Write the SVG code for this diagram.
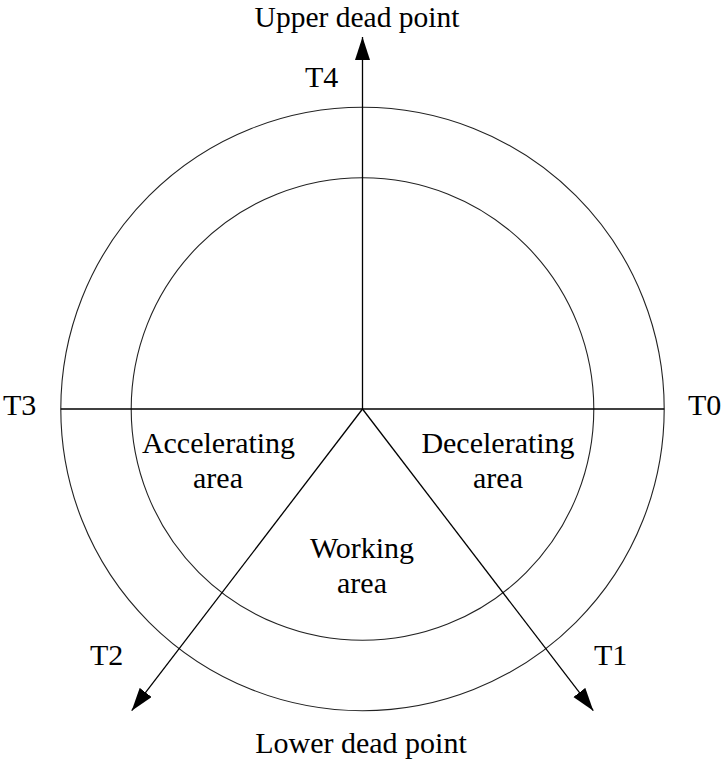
<svg xmlns="http://www.w3.org/2000/svg" width="724" height="767" viewBox="0 0 724 767">
<defs>
<style>
.c{fill:none;stroke:#222;stroke-width:1.1}
.l{fill:none;stroke:#000;stroke-width:1.3}
text{font-family:"Liberation Serif","Times New Roman",serif;font-size:30px;fill:#000}
.m{text-anchor:middle}
</style>
<marker id="ah" markerUnits="userSpaceOnUse" markerWidth="24" markerHeight="16" refX="23" refY="7.5" orient="auto" viewBox="0 0 24 16">
<path d="M0,0 L23,7.5 L0,15 z" fill="#000"/>
</marker>
</defs>
<g id="outer-circle"><circle class="c" cx="362.5" cy="409" r="301.7"/></g>
<g id="inner-circle"><circle class="c" cx="362.5" cy="409" r="231.3"/></g>
<g id="connectors">
<line class="l" x1="60.8" y1="409" x2="664.2" y2="409"/>
<line class="l" x1="362.5" y1="409" x2="362.5" y2="37" marker-end="url(#ah)"/>
<line class="l" x1="362.5" y1="409" x2="131.7" y2="710.7" marker-end="url(#ah)"/>
<line class="l" x1="362.5" y1="409" x2="593.3" y2="710.7" marker-end="url(#ah)"/>
</g>
<g id="upper"><text class="m" x="357" y="26.5" style="font-size:29.5px">Upper dead point</text></g>
<g id="lower"><text class="m" x="361" y="753">Lower dead point</text></g>
<g id="T4"><text x="305" y="87">T4</text></g>
<g id="T3"><text x="3" y="415">T3</text></g>
<g id="T0"><text x="688" y="415">T0</text></g>
<g id="T2"><text x="90" y="665">T2</text></g>
<g id="T1"><text x="594" y="665">T1</text></g>
<g id="accelerating"><text class="m" x="218.5" y="453">Accelerating</text><text class="m" x="218" y="488">area</text></g>
<g id="decelerating"><text class="m" x="498" y="453">Decelerating</text><text class="m" x="498" y="488">area</text></g>
<g id="working"><text class="m" x="362" y="558">Working</text><text class="m" x="362" y="593">area</text></g>
</svg>
